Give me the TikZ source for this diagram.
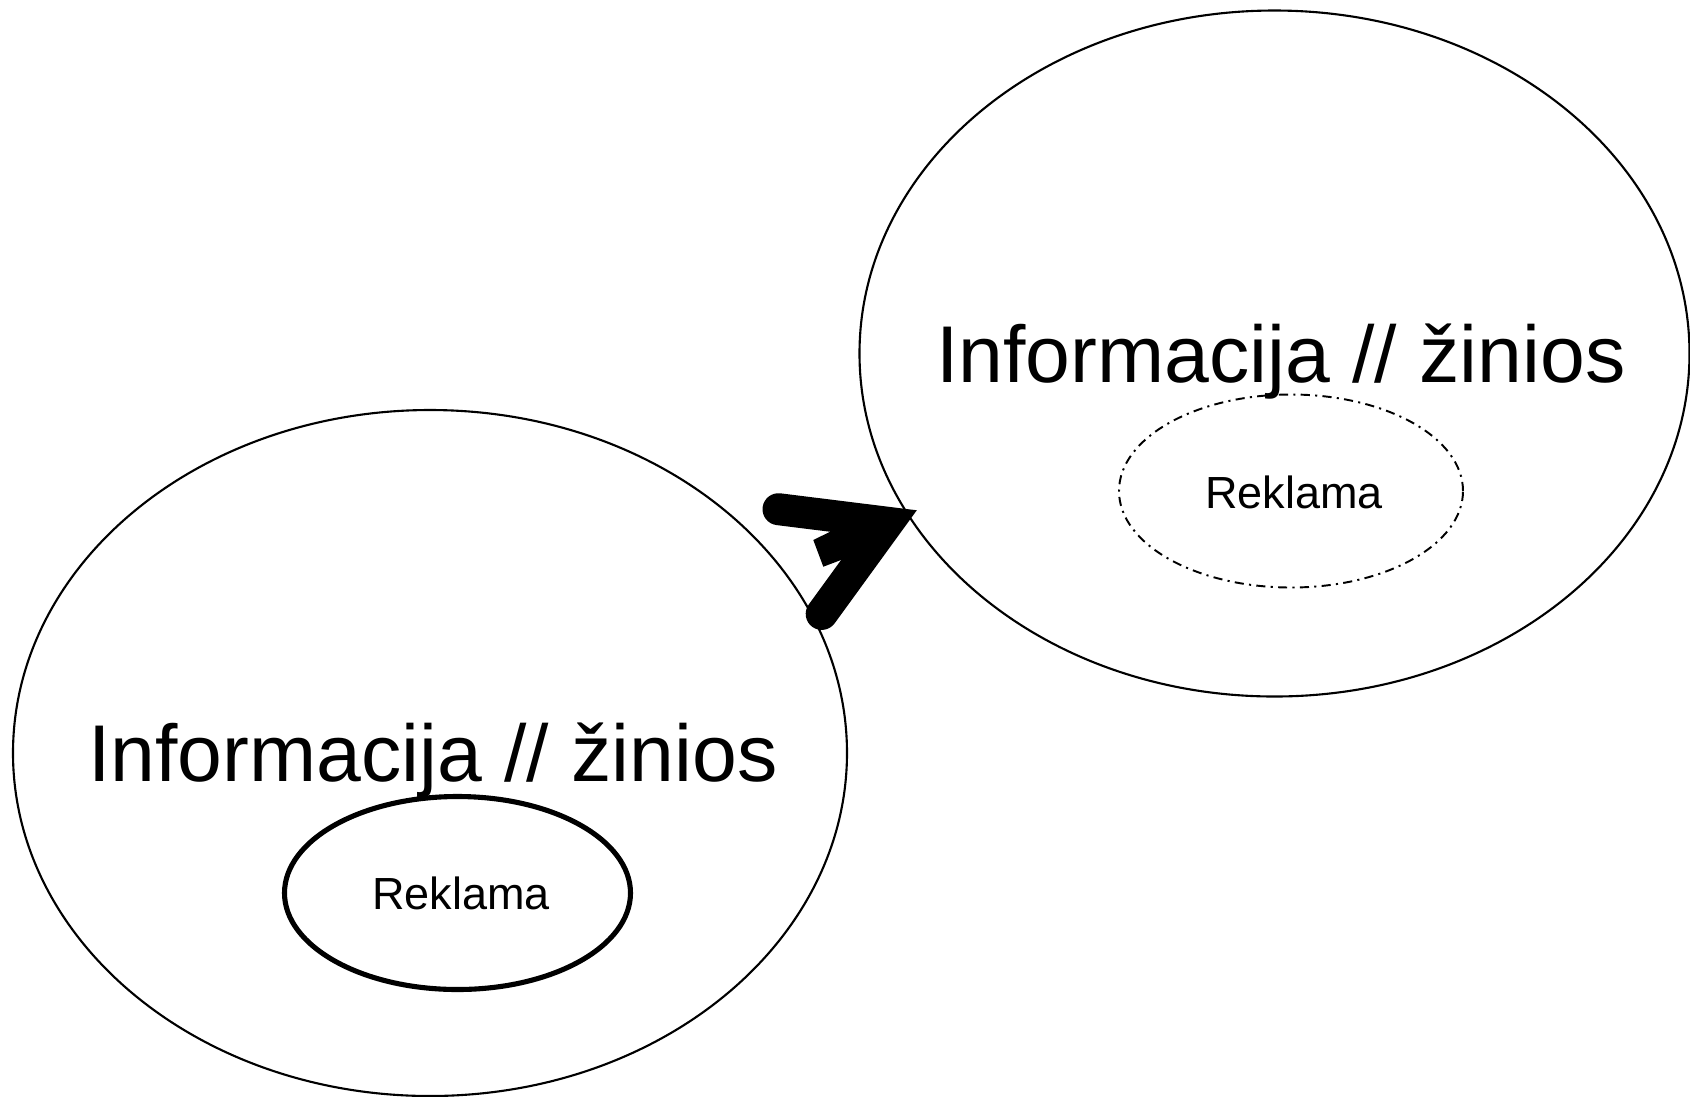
\documentclass[tikz,border=0pt]{standalone}
\usepackage{fontspec}
\setmainfont{Liberation Sans}
\usetikzlibrary{shapes.geometric}
\begin{document}
\begin{tikzpicture}[x=0.01cm,y=-0.01cm,
  bigell/.style={draw,ellipse,line width=0.6pt,inner sep=0pt,outer sep=0pt,minimum width=830*0.01cm,minimum height=686*0.01cm},
  solidell/.style={draw,ellipse,line width=1.45pt,inner sep=0pt,minimum width=346*0.01cm,minimum height=193*0.01cm},
  dashell/.style={draw,ellipse,line width=0.55pt,inner sep=0pt,minimum width=344*0.01cm,minimum height=193*0.01cm,
     dash pattern=on 2.6pt off 1.5pt on 0.6pt off 1.5pt},
  bigtxt/.style={font=\fontsize{22.9}{27}\selectfont,anchor=base,inner sep=0pt},
  smalltxt/.style={font=\fontsize{12.8}{15}\selectfont,anchor=base,inner sep=0pt},
  arrowline/.style={line width=32*0.01cm,line cap=round,line join=miter}]
\useasboundingbox (0,0) rectangle (1690,1096);
\fill[white] (0,0) rectangle (1690,1096);
% left group
\node[bigell,minimum width=834*0.01cm] (L) at (430,753) {};
\node[bigtxt] (Ltxt) at (433,781) {Informacija // žinios};
\node[solidell] (Ls) at (457.5,893) {};
\node[smalltxt] (Lstxt) at (461,909) {Reklama};
% right group
\node[bigell] (R) at (1274.5,353.5) {};
\node[bigtxt] (Rtxt) at (1281,382) {Informacija // žinios};
\node[dashell] (Rs) at (1291,491) {};
\node[smalltxt] (Rstxt) at (1294,508) {Reklama};
% arrow
\coordinate (a1) at (778.5,509.2);
\coordinate (a2) at (887.9,522.8);
\coordinate (a3) at (821.7,613.9);
\draw[arrowline] (a1) -- (a2) -- (a3);
\fill (875,525) -- (835,525) -- (830,531.8) -- (813.3,540) -- (823.3,566.7) -- (841,560) -- (850,565) -- cycle;
\end{tikzpicture}
\end{document}
